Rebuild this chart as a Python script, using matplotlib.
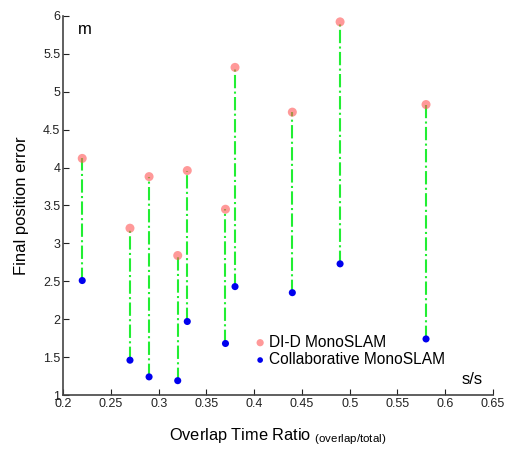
import matplotlib
matplotlib.use("Agg")
import matplotlib.pyplot as plt
import numpy as np

plt.rcParams['font.family'] = ['Liberation Sans', 'DejaVu Sans']

overlap_ratio = [0.22, 0.27, 0.29, 0.32, 0.33, 0.37, 0.38, 0.44, 0.49, 0.58]
did_monoslam = [4.12, 3.20, 3.88, 2.84, 3.96, 3.45, 5.32, 4.73, 5.92, 4.83]
collab_monoslam = [2.51, 1.46, 1.24, 1.19, 1.97, 1.68, 2.43, 2.35, 2.73, 1.74]
x_ticks = [0.2, 0.25, 0.3, 0.35, 0.4, 0.45, 0.5, 0.55, 0.6, 0.65]
x_tick_labels = ['0.2', '0.25', '0.3', '0.35', '0.4', '0.45', '0.5', '0.55', '0.6', '0.65']
y_ticks = [1, 1.5, 2, 2.5, 3, 3.5, 4, 4.5, 5, 5.5, 6]
y_tick_labels = ['1', '1.5', '2', '2.5', '3', '3.5', '4', '4.5', '5', '5.5', '6']

fig = plt.figure(figsize=(5.05, 4.51), dpi=100)
ax = fig.add_axes([0.125, 0.124, 0.851, 0.841])

for x, r, b in zip(overlap_ratio, did_monoslam, collab_monoslam):
    ax.plot([x, x], [b, r], color='#22ee33', linestyle='-.', linewidth=1.5, zorder=1)

ax.scatter(overlap_ratio, did_monoslam, s=42, color='#ff5555', alpha=0.6,
           edgecolors='none', label='DI-D MonoSLAM', zorder=3)
ax.scatter(overlap_ratio, collab_monoslam, s=26, color='#0000ee',
           edgecolors='none', label='Collaborative MonoSLAM', zorder=3)

ax.set_xlim(0.2, 0.65)
ax.set_ylim(1, 6)
ax.set_xticks(x_ticks)
ax.set_xticklabels(x_tick_labels)
ax.set_yticks(y_ticks)
ax.set_yticklabels(y_tick_labels)
ax.tick_params(direction='in', length=4, labelsize=9, width=0.8, colors='#222222', pad=2)
for s in ['top', 'right']:
    ax.spines[s].set_visible(False)
for s in ['left', 'bottom']:
    ax.spines[s].set_linewidth(1.2)
    ax.spines[s].set_color('#444444')

ax.set_ylabel('Final position error', fontsize=12, labelpad=10)
ax.set_xlabel('Overlap Time Ratio $_{\\mathregular{(overlap/total)}}$', fontsize=11.8, labelpad=12)

ax.text(0.035, 0.965, 'm', transform=ax.transAxes, fontsize=12, va='center', ha='left')
ax.text(0.952, 0.04, 's/s', transform=ax.transAxes, fontsize=12, va='center', ha='center')

leg = ax.legend(loc='lower left', bbox_to_anchor=(0.415, 0.045), frameon=False,
                fontsize=11.2, handletextpad=0.1, borderpad=0.2, labelspacing=0.15,
                handlelength=1.0, markerscale=0.8)

fig.savefig('out.png', dpi=100)
